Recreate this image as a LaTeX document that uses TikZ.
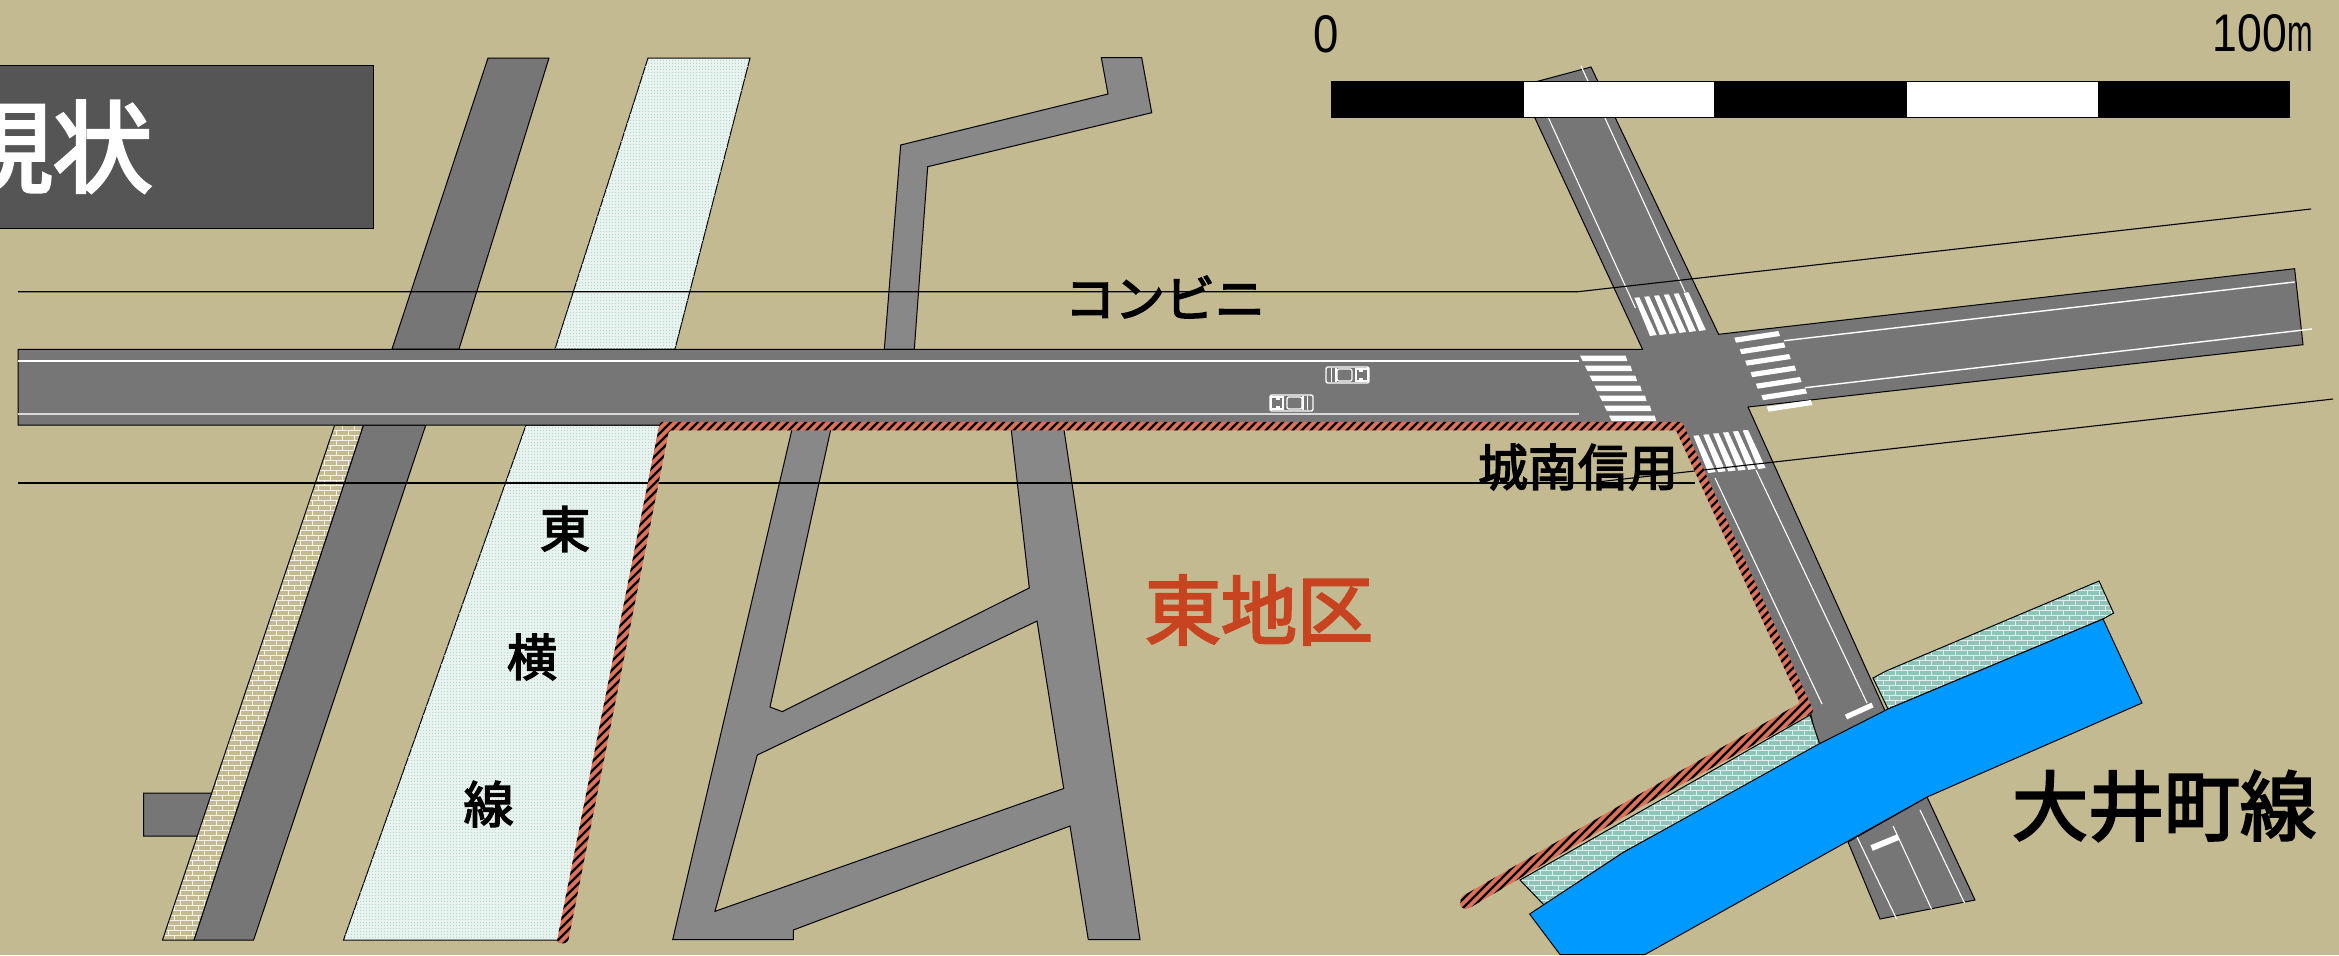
\documentclass[tikz,border=0pt]{standalone}
\usepackage{fontspec}
\usepackage{graphicx}
\usetikzlibrary{patterns}
\newfontfamily\jp[FakeBold=3]{Noto Sans CJK JP}
\newfontfamily\lat{Liberation Sans}
\definecolor{ground}{HTML}{C3BA91}
\definecolor{roadmain}{HTML}{767676}
\definecolor{roadside}{HTML}{888888}
\definecolor{railbase}{HTML}{E8F3F0}
\definecolor{raildot}{HTML}{B0D6CE}
\definecolor{riverblue}{HTML}{0099FF}
\definecolor{tealbrick}{HTML}{8FC4B9}
\definecolor{hatchred}{HTML}{DB7259}
\definecolor{labelred}{HTML}{C8431F}
\definecolor{titlegray}{HTML}{555555}
\colorlet{mortarteal}{white!72!tealbrick}
\colorlet{mortartan}{white!80!ground}
\pgfdeclarepatternformonly{raildots}{\pgfqpoint{0pt}{0pt}}{\pgfqpoint{1.5pt}{1.5pt}}{\pgfqpoint{1.5pt}{1.5pt}}{
  \pgfpathrectangle{\pgfqpoint{0pt}{0pt}}{\pgfqpoint{0.6pt}{0.6pt}}\pgfusepath{fill}}
% brick courses: x from, x to, y from, number of courses, mortar colour
\newcommand{\brickcourses}[5]{%
  \foreach \r in {0,...,#4} {
    \pgfmathsetmacro{\ph}{mod(\r,2)*3}
    \draw[#5,line width=0.5pt] (#1,{#3+5*\r})--(#2,{#3+5*\r});
    \draw[#5,line width=2.5pt,dash pattern=on 0.5pt off 5.5pt,dash phase=\ph pt] (#1,{#3+5*\r+2.5})--(#2,{#3+5*\r+2.5});
  }}
\tikzset{
  edgeline/.style={draw=black,line width=0.5pt,line join=miter},
  mainroad/.style={edgeline,fill=roadmain},
  sideroad/.style={edgeline,fill=roadside},
  railbed/.style={edgeline,fill=railbase},
  raildotted/.style={pattern=raildots,pattern color=raildot},
  bricktan/.style={fill=ground},
  brickteal/.style={fill=tealbrick},
  laneline/.style={draw=white,line width=0.7pt},
  zebra/.style={fill=white},
  thinrule/.style={draw=black,line width=0.55pt},
  jplabel/.style={font=\jp\fontsize{25}{25}\selectfont,text=black,inner sep=0pt},
  biglabel/.style={font=\jp\fontsize{38}{38}\selectfont,inner sep=0pt},
  numlabel/.style={font=\lat\fontsize{26.5}{27}\selectfont,text=black,inner sep=0pt},
  barblack/.style={fill=black,draw=black,line width=0.5pt},
  barwhite/.style={fill=white,draw=black,line width=0.5pt},
  caricon/.pic={
    \draw[white,line width=0.7pt,rounded corners=1pt] (0,0) rectangle (43,16);
    \draw[white,line width=0.6pt] (5.5,1)--(5.5,15) (10,1)--(10,15);
    \draw[white,line width=0.6pt,rounded corners=1pt] (11,2) rectangle (26,14);
    \draw[white,line width=0.6pt] (30,2) rectangle (42,14);
    \draw[white,line width=0.9pt] (33,4)--(37,4) (33,12)--(37,12);
  }
}
\begin{document}
\begin{tikzpicture}[x=0.5pt,y=-0.5pt]
\useasboundingbox (0,0) rectangle (2339,955);
\fill[ground] (0,0) rectangle (2339,955);

% title
\node[draw=black,line width=0.5pt,fill=titlegray,minimum width=400pt,minimum height=81.5pt,inner sep=0pt,anchor=north east] (titlebox) at (373.5,65) {};
\node[font=\jp\fontsize{50}{50}\selectfont,text=white,inner sep=0pt,anchor=east] (titletext) at (153,147) {現状};

% Toyoko line
\path[railbed] (648,58)--(750,58)--(675,349)--(555,349)--cycle;
\path[raildotted] (648,58)--(750,58)--(675,349)--(555,349)--cycle;
\path[railbed] (526,425)--(660,425)--(558.6,940)--(343.5,940)--cycle;
\path[raildotted] (526,425)--(660,425)--(558.6,940)--(343.5,940)--cycle;

% road crossing the main road at the left
\path[mainroad] (488,58)--(549,58)--(459,349)--(392,349)--cycle;
\path[mainroad] (363.4,425)--(425.8,425)--(253.6,940)--(194,940)--cycle;
% stub at bottom left
\path[mainroad] (219,793)--(143.5,793)--(143.5,836)--(203.5,836)--cycle;
% brick strip
\begin{scope}
\clip (334.7,425)--(363.4,425)--(194,940)--(162.5,940)--cycle;
\fill[bricktan] (150,420) rectangle (370,945);
\brickcourses{150}{370}{425.5}{103}{mortartan}
\end{scope}
\path[edgeline] (334.7,425)--(363.4,425)--(194,940)--(162.5,940)--cycle;

% side roads
\path[sideroad] (884.3,349.3)--(900.7,145)--(1108,94)--(1101.3,57.7)--(1141.7,57.7)--(1151.7,112.7)--(927.7,166.7)--(914.3,349.3)--cycle;
\path[sideroad,even odd rule]
  (793,425)--(831.7,425)--(770,707)--(782.3,711.6)--(1029.3,588)--(1010.7,425)--(1063.3,425)--(1140,939.7)--(1088.3,939.7)--(1070,826)--(793.3,930)--(793.3,939.7)--(672.7,939.7)--cycle
  (757.3,755)--(1037,621)--(1063.7,788.5)--(715,911.3)--cycle;

% lower road beyond the river
\path[mainroad] (1848,842)--(1927,797)--(1975,900)--(1880,919)--cycle;
\draw[laneline,line width=0.55pt] (1857,837)--(1896.6,919) (1893,826)--(1931.5,909) (1920,810)--(1964.5,903);
\draw[white,line width=3pt] (1871.6,848)--(1898.5,837);

% main roads with the junction
\path[mainroad] (18,349.3)--(1642.5,349.3)--(1520,86)--(1591,67)--(1718.6,334.3)--(2294.6,268.7)--(2303,344.7)--(1748,407)--(1886,713)--(1817,745)--(1810,710)--(1678,425)--(18,425)--cycle;
\draw[thinrule] (1886,713)--(1893,722);

% teal brick strips
\begin{scope}
\clip (1520,880)--(1810,715)--(1820,745)--(1624,852)--(1544,905)--cycle;
\fill[brickteal] (1510,705) rectangle (1830,915);
\brickcourses{1510}{1830}{705.5}{42}{mortarteal}
\end{scope}
\path[edgeline] (1520,880)--(1810,715)--(1820,745)--(1624,852)--(1544,905)--cycle;
\begin{scope}
\clip (1873,678)--(1886,671)--(2099,581)--(2113.6,613)--(2103,619)--(1888,709)--cycle;
\fill[brickteal] (1865,575) rectangle (2120,715);
\brickcourses{1865}{2120}{575.5}{28}{mortarteal}
\end{scope}
\path[edgeline] (1873,678)--(1886,671)--(2099,581)--(2113.6,613)--(2103,619)--(1888,709)--cycle;

% river
\path[edgeline,fill=riverblue] (1529.6,914)--(1560,954.5)--(1645,954.5)--(1927,797)--(2142,703)--(2103,619)--(1888,709)--(1817,745)--(1624,852)--cycle;

% lane lines
\draw[laneline] (18,361)--(1579,361);
\draw[laneline,draw=white!85!black] (18,414)--(1579,414);
\draw[laneline,line width=0.55pt] (1531.6,81)--(1635.4,308) (1581,66)--(1685,292);
\draw[laneline] (1784,340.7)--(2294.6,282) (1805,387.7)--(2312,329);
\draw[laneline,line width=0.55pt] (1715,478)--(1822,704) (1756,470)--(1867,703);
\draw[white,line width=2.6pt] (1846,717)--(1872.5,705);

% crossings
\foreach \i in {0,...,6} {
  \fill[zebra] ({1580+4.83*\i},{355.7+10*\i})--({1625.7+4.83*\i},{355.7+10*\i})--({1627.3+4.83*\i},{361+10*\i})--({1582.7+4.83*\i},{361+10*\i})--cycle;
  \fill[zebra] ({1450+(853+16.2*\i)/3},{250+(263+34.5*\i)/3})--({1450+(985+16.2*\i)/3},{250+(243+34.5*\i)/3})--({1450+(990+16.2*\i)/3},{250+(258+34.5*\i)/3})--({1450+(858+16.2*\i)/3},{250+(278+34.5*\i)/3})--cycle;
}
\foreach \i in {0,...,5} {
  \fill[zebra] ({1450+(553+29.5*\i)/3},{250+(143-3*\i)/3})--({1450+(568+29.5*\i)/3},{250+(142-3*\i)/3})--({1450+(620+29.5*\i)/3},{250+(255-3*\i)/3})--({1450+(600+29.5*\i)/3},{250+(258-3*\i)/3})--cycle;
  \fill[zebra] ({1450+(730+29.6*\i)/3},{250+(557-3.2*\i)/3})--({1450+(746+29.6*\i)/3},{250+(556-3.2*\i)/3})--({1450+(797+30*\i)/3},{250+(666-2.4*\i)/3})--({1450+(775+30*\i)/3},{250+(669-2.4*\i)/3})--cycle;
}

% cars
\pic at (1326,367) {caricon};
\pic[xscale=-1] at (1313,395) {caricon};

% thin rules
\coordinate (ruleA) at (18,291.7);
\coordinate (ruleB) at (1578,291.7);
\coordinate (ruleC) at (2311,209);
\coordinate (ruleD) at (18,483);
\coordinate (ruleE) at (1695,483);
\coordinate (ruleF) at (1597,482);
\coordinate (ruleG) at (2333,399);
\draw[thinrule] (ruleA)--(ruleB)--(ruleC);
\draw[thinrule] (ruleD)--(ruleE);
\draw[thinrule] (ruleF)--(ruleG);

% hatched boundary
\begin{scope}
\clip[rounded corners=1pt] (556.7,942)--(660,421.75)--(1682,421.75)--(1814,711.8)--(1638,808.4)--(1467,909.5)--(1460,907)--(1461,897)--(1638,795)--(1800,703)--(1676,430.25)--(669,430.25)--(568,942)--(561,944)--cycle;
\fill[hatchred] (0,0) rectangle (2339,955);
\foreach \c in {850,859,...,2750} {
  \draw[black,line width=1.2pt] (\c,0)--({\c-955},955);
}
\end{scope}

% scale bar
\path[barblack] (1331,81) rectangle (1523,117.5);
\path[barwhite] (1523,81) rectangle (1714,117.5);
\path[barblack] (1714,81) rectangle (1906,117.5);
\path[barwhite] (1906,81) rectangle (2098,117.5);
\path[barblack] (2098,81) rectangle (2289,117.5);
\node[numlabel] (zero) at (1326,34) {\scalebox{0.86}[1]{0}};
\node[numlabel,anchor=east] (hundred) at (2313,33) {\scalebox{0.84}[1]{100}\scalebox{0.58}[1]{m}};

% labels
\node[jplabel] (konbini) at (1165,297) {コンビニ};
\node[jplabel] (jonan) at (1578,467) {城南信用};
\node[jplabel] (to) at (565,529) {東};
\node[jplabel] (yoko) at (532,657) {横};
\node[jplabel] (sen) at (488.6,804) {線};
\node[biglabel,text=labelred] (higashi) at (1259,610) {東地区};
\node[biglabel,text=black] (ooimachi) at (2164,806) {大井町線};
\end{tikzpicture}
\end{document}
